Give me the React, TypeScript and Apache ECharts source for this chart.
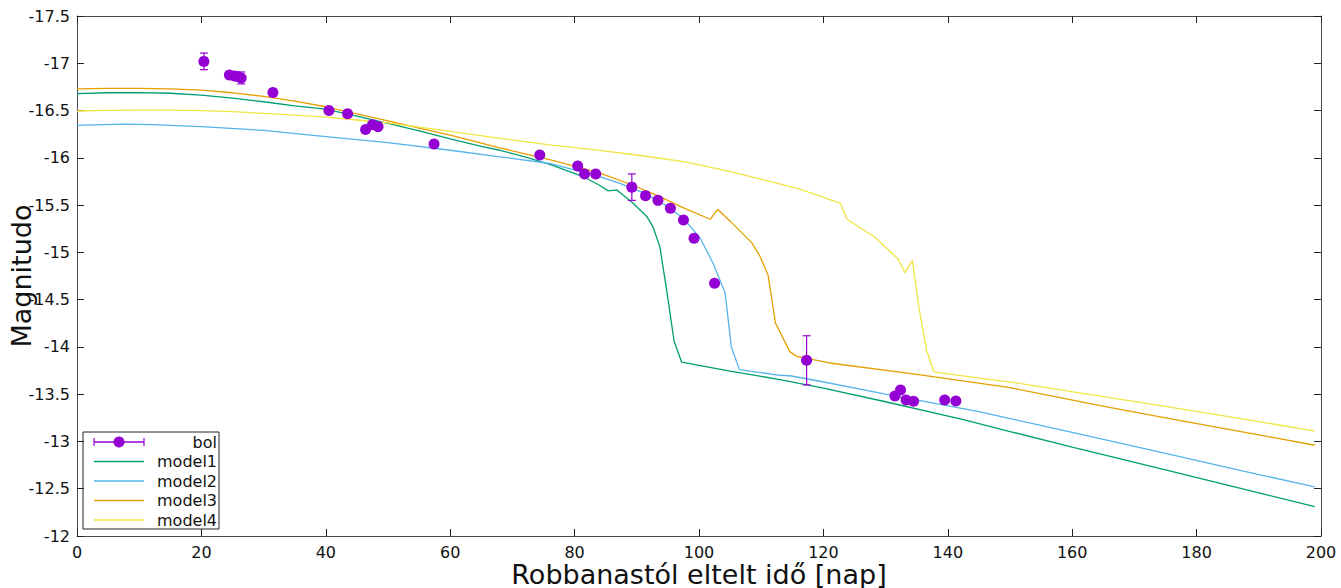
import React, { useEffect, useRef } from "react";
import * as echarts from "echarts";

// Bolometric light curve (days since explosion, magnitude, error)
const bolDays = [20.4, 24.5, 25.3, 25.8, 26.4, 31.5, 40.5, 43.5, 46.4, 47.5, 48.4, 57.4, 74.4, 80.5, 81.6, 83.4, 89.2, 91.4, 93.4, 95.4, 97.5, 99.2, 102.5, 117.3, 131.5, 132.4, 133.3, 134.5, 139.5, 141.3];
const bolMag = [-17.02, -16.875, -16.865, -16.86, -16.845, -16.69, -16.5, -16.467, -16.3, -16.35, -16.33, -16.146, -16.03, -15.913, -15.829, -15.829, -15.69, -15.6, -15.55, -15.466, -15.342, -15.149, -14.673, -13.858, -13.48, -13.544, -13.438, -13.425, -13.438, -13.428];
const bolErr = [0.088, 0.03, 0.03, 0.035, 0.063, 0.035, 0.02, 0.02, 0.02, 0.02, 0.02, 0.02, 0.02, 0.02, 0.02, 0.02, 0.14, 0.02, 0.02, 0.02, 0.02, 0.02, 0.02, 0.26, 0.02, 0.02, 0.02, 0.02, 0.02, 0.035];

// Model light curves
const model1Days = [0, 5, 10, 15, 20, 25, 30, 35, 40, 45, 50, 55, 60, 65, 68, 72, 76, 81.4, 84, 85.4, 86.8, 89.4, 91.6, 92.6, 93.7, 94.8, 96.0, 97.2, 105, 113, 120, 130, 142.5, 150, 160, 175, 190, 199];
const model1Mag = [-16.68, -16.688, -16.69, -16.683, -16.663, -16.632, -16.593, -16.55, -16.515, -16.44, -16.365, -16.285, -16.2, -16.12, -16.08, -16.01, -15.93, -15.8, -15.71, -15.65, -15.66, -15.52, -15.38, -15.27, -15.06, -14.6, -14.06, -13.84, -13.745, -13.655, -13.565, -13.42, -13.23, -13.105, -12.94, -12.7, -12.456, -12.31];

const model2Days = [0, 4, 8, 12, 20, 30, 40, 50, 60, 68, 76, 84, 87.3, 90.5, 93.7, 97.5, 100.2, 102.3, 104.2, 105.2, 106.5, 113, 114.6, 118.4, 130, 145, 160, 175, 190, 199];
const model2Mag = [-16.344, -16.352, -16.356, -16.352, -16.33, -16.29, -16.225, -16.16, -16.08, -16.01, -15.94, -15.8, -15.73, -15.645, -15.54, -15.36, -15.15, -14.88, -14.57, -14.0, -13.76, -13.7, -13.695, -13.65, -13.5, -13.315, -13.096, -12.875, -12.65, -12.52];

const model3Days = [0, 5, 10, 15, 20, 25, 30, 35, 40, 45, 50, 55, 60, 68, 76, 84, 89.4, 93.7, 97.5, 101.8, 103, 105, 108.5, 109.8, 111.1, 112.3, 114.6, 115.7, 121, 135, 149.5, 164.5, 175, 190, 199];
const model3Mag = [-16.73, -16.735, -16.735, -16.73, -16.715, -16.688, -16.65, -16.6, -16.54, -16.465, -16.39, -16.315, -16.24, -16.105, -15.98, -15.84, -15.71, -15.59, -15.47, -15.35, -15.455, -15.33, -15.1, -14.96, -14.76, -14.25, -13.95, -13.9, -13.83, -13.71, -13.575, -13.38, -13.25, -13.07, -12.96];

const model4Days = [0, 5, 10, 15, 20, 25, 30, 35, 40, 45, 50, 55, 60, 68, 76, 84, 90, 97.5, 104, 110.3, 116.2, 122.7, 123.8, 128.3, 132, 133.1, 134.3, 135.4, 136.6, 137.8, 145, 151.5, 164.5, 175, 190, 199];
const model4Mag = [-16.495, -16.502, -16.505, -16.505, -16.5, -16.488, -16.47, -16.452, -16.43, -16.4, -16.37, -16.325, -16.28, -16.206, -16.136, -16.078, -16.03, -15.96, -15.87, -15.77, -15.67, -15.52, -15.35, -15.16, -14.93, -14.785, -14.915, -14.4, -13.96, -13.735, -13.67, -13.615, -13.48, -13.37, -13.21, -13.11];

const xTicks = { min: 0, max: 200, interval: 20 };
const yTicks = { min: -17.5, max: -12, interval: 0.5 };

const COLORS = {
  bol: "#9400D3",
  model1: "#009E73",
  model2: "#56B4E9",
  model3: "#E69F00",
  model4: "#F0E442",
};

const FONT = "DejaVu Sans";
const AXIS_COLOR = "#4a4a4a";
const TEXT_COLOR = "#111";

const pairs = (xs: number[], ys: number[]) => xs.map((x, i) => [x, ys[i]]);

export default function App() {
  const ref = useRef<HTMLDivElement>(null);

  useEffect(() => {
    if (!ref.current) return;
    const chart = echarts.init(ref.current, undefined, { renderer: "svg" });

    const axisLine = { show: true, onZero: false, lineStyle: { color: AXIS_COLOR, width: 1 } };
    const axisTick = { show: true, inside: true, length: 7, lineStyle: { color: "#222", width: 1 } };

    const modelSeries = (name: string, xs: number[], ys: number[], color: string) => ({
      name,
      type: "line",
      data: pairs(xs, ys),
      showSymbol: false,
      smooth: false,
      lineStyle: { color, width: 1.3 },
      z: 2,
    });

    // legend rows (drawn as graphics)
    const legendX1 = 94;
    const legendX2 = 144;
    const legendTextX = 217;
    const rowY = [442, 461.5, 481, 500.5, 520];
    const legendNames = ["bol", "model1", "model2", "model3", "model4"];
    const legendColors = [COLORS.bol, COLORS.model1, COLORS.model2, COLORS.model3, COLORS.model4];

    const legendChildren: any[] = [
      {
        type: "rect",
        shape: { x: 83, y: 432, width: 136, height: 97 },
        style: { fill: "#fff", stroke: "#222", lineWidth: 1 },
      },
    ];
    legendNames.forEach((n, i) => {
      legendChildren.push({
        type: "line",
        shape: { x1: legendX1, y1: rowY[i], x2: legendX2, y2: rowY[i] },
        style: { stroke: legendColors[i], lineWidth: 1.3 },
      });
      legendChildren.push({
        type: "text",
        x: legendTextX,
        y: rowY[i],
        style: {
          text: n,
          fill: TEXT_COLOR,
          font: `16px '${FONT}'`,
          textAlign: "right",
          textVerticalAlign: "middle",
        },
      });
    });
    // error-bar symbol for the bol entry
    [legendX1, legendX2].forEach((cx) => {
      legendChildren.push({
        type: "line",
        shape: { x1: cx, y1: rowY[0] - 4, x2: cx, y2: rowY[0] + 4 },
        style: { stroke: COLORS.bol, lineWidth: 1.2 },
      });
    });
    legendChildren.push({
      type: "circle",
      shape: { cx: 119, cy: rowY[0], r: 5.5 },
      style: { fill: COLORS.bol },
    });

    chart.setOption({
      animation: false,
      backgroundColor: "#fff",
      grid: { left: 77, right: 20, top: 16, bottom: 52, containLabel: false, outerBoundsMode: "none" },
      xAxis: [
        {
          type: "value",
          position: "bottom",
          ...xTicks,
          axisLine,
          axisTick,
          splitLine: { show: false },
          axisLabel: { fontFamily: FONT, fontSize: 16, color: TEXT_COLOR, margin: 8 },
          name: "Robbanastól eltelt idő [nap]",
          nameLocation: "middle",
          nameGap: 25,
          nameMoveOverlap: false,
          nameTextStyle: { fontFamily: FONT, fontSize: 27, color: TEXT_COLOR },
        },
        {
          type: "value",
          position: "top",
          ...xTicks,
          axisLine,
          axisTick,
          splitLine: { show: false },
          axisLabel: { show: false },
        },
      ],
      yAxis: [
        {
          type: "value",
          position: "left",
          inverse: true,
          ...yTicks,
          axisLine,
          axisTick,
          splitLine: { show: false },
          axisLabel: { fontFamily: FONT, fontSize: 16, color: TEXT_COLOR, margin: 7 },
          name: "Magnitudo",
          nameLocation: "middle",
          nameGap: 42,
          nameMoveOverlap: false,
          nameTextStyle: { fontFamily: FONT, fontSize: 27, color: TEXT_COLOR },
        },
        {
          type: "value",
          position: "right",
          inverse: true,
          ...yTicks,
          axisLine,
          axisTick,
          splitLine: { show: false },
          axisLabel: { show: false },
        },
      ],
      graphic: [{ type: "group", z: 100, children: legendChildren }],
      series: [
        modelSeries("model1", model1Days, model1Mag, COLORS.model1),
        modelSeries("model2", model2Days, model2Mag, COLORS.model2),
        modelSeries("model3", model3Days, model3Mag, COLORS.model3),
        modelSeries("model4", model4Days, model4Mag, COLORS.model4),
        {
          name: "bol-err",
          type: "custom",
          z: 3,
          data: bolDays.map((d, i) => [d, bolMag[i], bolErr[i]]),
          encode: { x: 0, y: 1 },
          renderItem: (_params: any, api: any) => {
            const x = api.value(0);
            const y = api.value(1);
            const e = api.value(2);
            const p1 = api.coord([x, y - e]);
            const p2 = api.coord([x, y + e]);
            const style = { stroke: COLORS.bol, lineWidth: 1.2 };
            return {
              type: "group",
              children: [
                { type: "line", shape: { x1: p1[0], y1: p1[1], x2: p2[0], y2: p2[1] }, style },
                { type: "line", shape: { x1: p1[0] - 4, y1: p1[1], x2: p1[0] + 4, y2: p1[1] }, style },
                { type: "line", shape: { x1: p2[0] - 4, y1: p2[1], x2: p2[0] + 4, y2: p2[1] }, style },
              ],
            };
          },
        },
        {
          name: "bol",
          type: "scatter",
          z: 4,
          data: pairs(bolDays, bolMag),
          symbol: "circle",
          symbolSize: 11,
          itemStyle: { color: COLORS.bol, opacity: 1 },
        },
      ],
    });

    return () => chart.dispose();
  }, []);

  return (
    <div
      ref={ref}
      style={{ position: "absolute", left: 0, top: 0, width: 1341, height: 588 }}
    />
  );
}
